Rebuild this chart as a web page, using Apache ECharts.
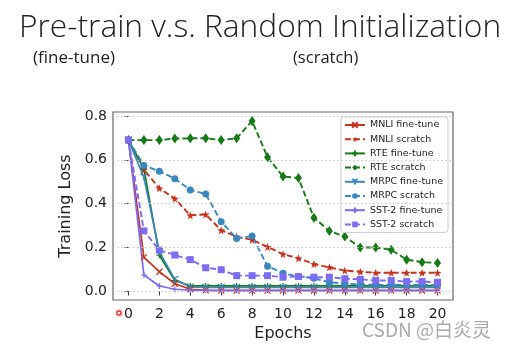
<!DOCTYPE html>
<html>
<head>
<meta charset="utf-8">
<script src="https://cdn.jsdelivr.net/npm/echarts@6/dist/echarts.min.js"></script>
<style>
  html, body { margin: 0; padding: 0; background: #fff; }
  #chart { width: 507px; height: 350px; }
</style>
</head>
<body>
<div id="chart"></div>
<script>
// 数据
const epochs = [0,1,2,3,4,5,6,7,8,9,10,11,12,13,14,15,16,17,18,19,20]
const xTicks = [0,2,4,6,8,10,12,14,16,18,20]
const yTicks = [0.0,0.2,0.4,0.6,0.8]

const mnliFine    = [0.69,0.155,0.09,0.035,0.01,0.005,0.004,0.004,0.004,0.004,0.004,0.004,0.004,0.004,0.004,0.004,0.004,0.004,0.004,0.004,0.004]
const mnliScratch = [0.69,0.555,0.47,0.423,0.347,0.351,0.279,0.25,0.235,0.203,0.17,0.151,0.125,0.11,0.095,0.09,0.085,0.085,0.085,0.085,0.085]
const rteFine     = [0.69,0.56,0.165,0.05,0.025,0.025,0.025,0.025,0.025,0.025,0.025,0.025,0.025,0.025,0.025,0.025,0.025,0.025,0.025,0.025,0.025]
const rteScratch  = [0.69,0.69,0.69,0.697,0.698,0.698,0.69,0.698,0.777,0.612,0.524,0.517,0.336,0.276,0.25,0.2,0.2,0.19,0.145,0.133,0.13]
const mrpcFine    = [0.69,0.52,0.18,0.055,0.02,0.018,0.018,0.018,0.018,0.018,0.018,0.018,0.018,0.018,0.018,0.018,0.018,0.018,0.018,0.018,0.018]
const mrpcScratch = [0.69,0.574,0.548,0.514,0.463,0.444,0.318,0.241,0.253,0.115,0.083,0.068,0.06,0.042,0.036,0.032,0.03,0.03,0.03,0.03,0.03]
const sstFine     = [0.69,0.075,0.025,0.01,0.006,0.005,0.005,0.005,0.005,0.005,0.005,0.005,0.005,0.005,0.005,0.005,0.005,0.005,0.005,0.005,0.005]
const sstScratch  = [0.69,0.276,0.188,0.166,0.145,0.108,0.099,0.072,0.072,0.072,0.065,0.068,0.065,0.065,0.058,0.055,0.05,0.05,0.045,0.045,0.042]

const RED = '#c8321e'
const GREEN = '#157a15'
const BLUE = '#3a87c0'
const PURPLE = '#7b6cf0'

// 自定义标记
const SYM_X = 'path://M0,0L10,10M10,0L0,10'
const SYM_PLUS = 'path://M5,0L5,10M0,5L10,5'
const SYM_STAR = 'path://M5,0L6.2,3.4L9.8,3.5L6.9,5.6L7.9,9L5,7L2.1,9L3.1,5.6L0.2,3.5L3.8,3.4Z'
const SYM_TRI = 'path://M5,5L5,10M5,5L0.7,2.5M5,5L9.3,2.5'

const toPoints = (vals) => epochs.map((e, i) => [e, vals[i]])

const makeSeries = (name, vals, color, symbol, size, dashed, strokeOnly) => ({
  name,
  type: 'line',
  data: toPoints(vals),
  symbol,
  symbolSize: size,
  showAllSymbol: true,
  lineStyle: { color, width: dashed ? 1.9 : 1.7, type: dashed ? [6, 3] : 'solid' },
  itemStyle: strokeOnly
    ? { color: 'rgba(0,0,0,0)', borderColor: color, borderWidth: 1.2 }
    : { color, borderWidth: 0 },
  emphasis: { disabled: true },
})

const chart = echarts.init(document.getElementById('chart'))

const option = {
  animation: false,
  title: [
    {
      text: 'Pre-train v.s. Random Initialization',
      left: 14, top: 7,
      textStyle: { fontFamily: 'Open Sans', fontWeight: 300, fontSize: 31.7, color: '#222' },
    },
    {
      text: '(fine-tune)',
      left: 28, top: 45,
      textStyle: { fontFamily: 'Open Sans', fontWeight: 'normal', fontSize: 17, color: '#222' },
    },
    {
      text: '(scratch)',
      left: 288, top: 45,
      textStyle: { fontFamily: 'Open Sans', fontWeight: 'normal', fontSize: 16.5, color: '#222' },
    },
  ],
  legend: {
    data: ['MNLI fine-tune','MNLI scratch','RTE fine-tune','RTE scratch','MRPC fine-tune','MRPC scratch','SST-2 fine-tune','SST-2 scratch'],
    orient: 'vertical',
    right: 59, top: 117,
    itemWidth: 20, itemHeight: 7, itemGap: 4.2,
    padding: [3, 5, 3, 3],
    backgroundColor: '#fff',
    borderColor: '#ccc', borderWidth: 1, borderRadius: 3,
    textStyle: { fontFamily: 'DejaVu Sans', fontSize: 9.5, color: '#222', lineHeight: 10 },
  },
  grid: { left: 113, right: 54, top: 112, bottom: 50, show: true, borderColor: '#666', borderWidth: 1.2, backgroundColor: '#fff' },
  xAxis: {
    type: 'value', min: -1, max: 21,
    name: 'Epochs', nameLocation: 'middle', nameGap: 26,
    nameTextStyle: { fontFamily: 'DejaVu Sans', fontSize: 16, color: '#222' },
    axisLine: { show: false },
    axisTick: { show: true, length: 4, lineStyle: { color: '#333' }, customValues: xTicks },
    axisLabel: { fontFamily: 'DejaVu Sans', fontSize: 14, color: '#222', margin: 7, customValues: xTicks },
    splitLine: { show: false },
  },
  yAxis: {
    type: 'value', min: -0.039, max: 0.818,
    name: 'Training Loss', nameLocation: 'middle', nameGap: 31,
    nameTextStyle: { fontFamily: 'DejaVu Sans', fontSize: 16, color: '#222' },
    axisLine: { show: false },
    axisTick: { show: true, length: 4, lineStyle: { color: '#333' }, customValues: yTicks },
    axisLabel: { fontFamily: 'DejaVu Sans', fontSize: 14, color: '#222', margin: 6, customValues: yTicks, formatter: v => v.toFixed(1) },
    splitLine: { show: false },
  },
  graphic: [
    { type: 'text', left: 362, top: 320, style: { text: 'CSDN @白炎灵', fill: '#aaaaaa', font: '19px "Noto Sans CJK SC"' } },
    { type: 'circle', shape: { cx: 119, cy: 313, r: 4 }, style: { fill: 'rgba(255,120,120,0.35)', stroke: 'none' } },
    { type: 'circle', shape: { cx: 119, cy: 313, r: 2 }, style: { fill: '#fff', stroke: '#e53030', lineWidth: 1.3 } },
  ],
  series: [
    {
      name: 'grid', type: 'line', data: [], silent: true,
      markLine: {
        silent: true, symbol: 'none', label: { show: false },
        lineStyle: { color: '#c8c8c8', width: 0.8, type: [2, 2] },
        data: yTicks.map(v => ({ yAxis: v })),
      },
    },
    makeSeries('MNLI fine-tune', mnliFine, RED, SYM_X, 6, false, true),
    makeSeries('MNLI scratch', mnliScratch, RED, SYM_STAR, 8, true, false),
    makeSeries('RTE fine-tune', rteFine, GREEN, SYM_PLUS, 6, false, true),
    makeSeries('RTE scratch', rteScratch, GREEN, 'diamond', [7, 10], true, false),
    makeSeries('MRPC fine-tune', mrpcFine, BLUE, SYM_TRI, 7, false, true),
    makeSeries('MRPC scratch', mrpcScratch, BLUE, 'circle', 7, true, false),
    makeSeries('SST-2 fine-tune', sstFine, PURPLE, SYM_PLUS, 6, false, true),
    makeSeries('SST-2 scratch', sstScratch, PURPLE, 'rect', 7, true, false),
  ],
}

chart.setOption(option)
</script>
</body>
</html>
